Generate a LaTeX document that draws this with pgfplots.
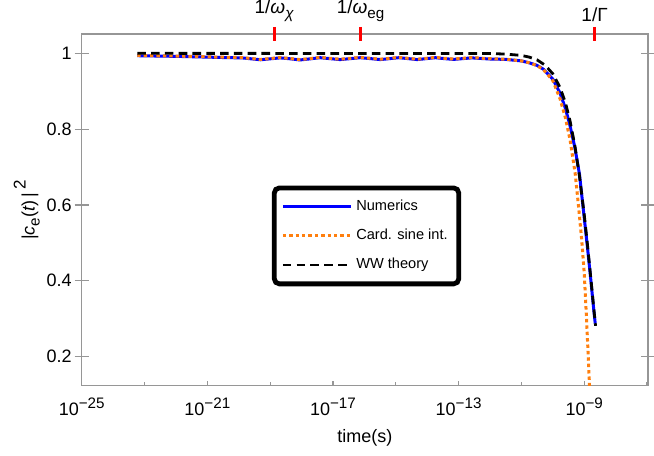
\documentclass[border=0pt]{standalone}
\usepackage{fontspec}
\setmainfont{Liberation Sans}
\usepackage{pgfplots}
\pgfplotsset{compat=1.18}
\usetikzlibrary{calc}
\definecolor{NumBlue}{RGB}{0,0,255}
\definecolor{CardOrange}{RGB}{255,127,14}
\definecolor{FrameGray}{RGB}{150,150,150}
\newcommand{\tp}[1]{10\raisebox{0.42em}{\fontsize{7.6}{8}\selectfont\char"2212\relax#1}}
\newcommand{\sub}[1]{\raisebox{-0.28em}{\fontsize{7.6}{8}\selectfont#1}}

\pgfplotstableread{
t y
5.888e-24 0.9937
1e-22 0.9920
1e-21 0.9900
5.012e-21 0.9885
1.259e-20 0.9880
2.512e-20 0.9855
4.898e-20 0.9830
1e-19 0.9855
2.089e-19 0.9880
4.467e-19 0.9855
8.913e-19 0.9825
1.905e-18 0.9855
3.890e-18 0.9885
7.943e-18 0.9860
1.698e-17 0.9835
3.548e-17 0.9860
7.413e-17 0.9885
1.585e-16 0.9860
3.236e-16 0.9835
6.310e-16 0.9860
1.259e-15 0.9885
2.512e-15 0.9860
4.786e-15 0.9835
9.333e-15 0.9860
1.820e-14 0.9885
3.548e-14 0.9860
6.918e-14 0.9840
1.349e-13 0.9860
2.630e-13 0.9880
5.012e-13 0.9865
1e-12 0.9850
3.162e-12 0.9840
1e-11 0.9800
1.778e-11 0.9750
3.162e-11 0.9680
5.012e-11 0.9580
1e-10 0.9320
1.698e-10 0.8950
2.512e-10 0.8550
3.548e-10 0.8080
5.012e-10 0.7520
7.079e-10 0.6800
1e-9 0.5660
1.259e-9 0.4900
1.585e-9 0.4100
1.995e-9 0.3260
2.239e-9 0.2870
}\numerics

\pgfplotstableread{
t y
5.888e-24 0.9945
1e-22 0.9928
1e-21 0.9908
5.012e-21 0.9893
1.259e-20 0.9888
2.512e-20 0.9863
4.898e-20 0.9840
1e-19 0.9863
2.089e-19 0.9888
4.467e-19 0.9863
8.913e-19 0.9835
1.905e-18 0.9863
3.890e-18 0.9893
7.943e-18 0.9868
1.698e-17 0.9845
3.548e-17 0.9868
7.413e-17 0.9893
1.585e-16 0.9868
3.236e-16 0.9845
6.310e-16 0.9868
1.259e-15 0.9893
2.512e-15 0.9868
4.786e-15 0.9845
9.333e-15 0.9868
1.820e-14 0.9893
3.548e-14 0.9868
6.918e-14 0.9850
1.349e-13 0.9868
2.630e-13 0.9888
5.012e-13 0.9873
1e-12 0.9858
3.162e-12 0.9845
1e-11 0.9800
1.778e-11 0.9750
3.162e-11 0.9675
5.012e-11 0.9570
1e-10 0.9280
1.698e-10 0.8800
2.512e-10 0.8300
3.548e-10 0.7710
5.129e-10 0.6840
6.607e-10 0.5950
8.318e-10 0.5070
1e-9 0.4200
1.202e-9 0.2880
1.479e-9 0.1200
1.585e-9 0.0600
}\cardsine

\pgfplotstableread{
t y
5.888e-24 1.0000
1e-12 0.9995
3.162e-12 0.9980
1e-11 0.9945
1.778e-11 0.9900
3.162e-11 0.9826
5.623e-11 0.9690
1e-10 0.9460
1.698e-10 0.9100
2.512e-10 0.8700
3.548e-10 0.8210
5.012e-10 0.7570
7.079e-10 0.6750
1e-9 0.5740
1.259e-9 0.4970
1.585e-9 0.4150
1.995e-9 0.3300
2.291e-9 0.2810
}\wwtheory

\begin{document}
\begin{tikzpicture}
\begin{axis}[
    name=ax,
    scale only axis,
    width=283.2pt,
    height=175.9pt,
    xmode=log,
    xmin=1e-25, xmax=1.07e-7,
    ymin=0.123, ymax=1.051,
    xtick={1e-25,1e-21,1e-17,1e-13,1e-9},
    xticklabels={\tp{25},\tp{21},\tp{17},\tp{13},\tp{9}},
    minor xtick={1e-23,1e-19,1e-15,1e-11,1e-7},
    ytick={0.2,0.4,0.6,0.8,1},
    yticklabels={0.2,0.4,0.6,0.8,1},
    xtick pos=bottom,
    ytick pos=both,
    xtick align=inside,
    ytick align=center,
    major tick length=7pt,
    minor tick length=1.8pt,
    xtick style={/pgfplots/major tick length=2.6pt},
    tick style={FrameGray, line width=0.6pt},
    axis line style={FrameGray, line width=0.7pt},
    ticklabel style={font=\fontsize{9}{10}\selectfont, black},
    xticklabel style={yshift=-2.5pt},
    yticklabel style={xshift=2pt},
    xlabel={time(s)},
    ylabel={|\textit{c}\sub{e}(\textit{t})\,|\,\raisebox{0.5em}{\fontsize{8.5}{9}\selectfont 2}},
    label style={font=\fontsize{9}{10}\selectfont},
    xlabel style={yshift=0pt},
    ylabel style={yshift=-3.5pt},
    legend cell align=left,
    legend image code/.code={\draw[#1] (0pt,0pt) -- (34pt,0pt);},
    legend style={at={(0.503,0.426)}, anchor=center, draw=black, line width=2.4pt,
        rounded corners=2.5pt, font=\fontsize{7.3}{8}\selectfont, row sep=3.8pt,
        inner xsep=3.5pt, inner ysep=4pt},
]
\addplot[NumBlue, line width=1.5pt] table[x=t, y=y] {\numerics};
\addlegendentry{Numerics}
\addplot[CardOrange, line width=1.5pt, dash pattern=on 1.7pt off 1.5pt] table[x=t, y=y] {\cardsine};
\addlegendentry{Card. sine int.}
\addplot[black, line width=1.4pt, dash pattern=on 4.3pt off 2.6pt] table[x=t, y=y] {\wwtheory};
\addlegendentry{WW theory}
\end{axis}
\begin{axis}[
    scale only axis,
    width=283.2pt,
    height=175.9pt,
    xmode=log,
    xmin=1e-25, xmax=1.07e-7,
    ymin=0.123, ymax=1.051,
    axis x line*=top,
    hide y axis,
    axis line style={draw=none},
    xtick={1.349e-19,7.586e-17,2.138e-9},
    xticklabels={1/\textit{ω}\sub{\textit{χ}},1/\textit{ω}\sub{eg},1/Γ},
    minor xtick={},
    xtick align=center,
    major tick length=7pt,
    tick style={red, line width=1.6pt},
    ticklabel style={font=\fontsize{9.5}{10}\selectfont, black},
    xticklabel style={yshift=-1pt},
]
\end{axis}
\pgfresetboundingbox
\path[use as bounding box] ($(ax.south west)+(-40.85pt,-34.65pt)$) rectangle ($(ax.north east)+(3pt,17pt)$);
\end{tikzpicture}
\end{document}
